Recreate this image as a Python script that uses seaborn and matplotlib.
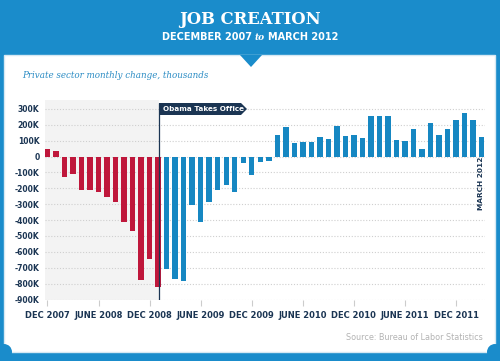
import matplotlib
matplotlib.use("Agg")
import matplotlib.pyplot as plt
import seaborn as sns
import pandas as pd
from matplotlib.patches import Rectangle, Polygon, Ellipse

# --------------------
# Data (thousands of private sector jobs, monthly change)
# --------------------
months = list(pd.date_range("2007-12-01", "2012-03-01", freq="MS").strftime("%Y-%m"))
before_vals = [46, 38, -130, -109, -210, -210, -226, -252, -287, -415, -467, -780, -644, -822]
after_vals = [-709, -769, -786, -304, -415, -287, -210, -178, -224, -38, -115,
              -36, -25, 138, 189, 84, 90, 90, 126, 111, 193, 132, 138,
              117, 256, 256, 258, 105, 100, 172, 50, 210, 138, 174, 230,
              273, 228, 120]
x_tick_labels = ["DEC 2007", "JUNE 2008", "DEC 2008", "JUNE 2009", "DEC 2009",
                 "JUNE 2010", "DEC 2010", "JUNE 2011", "DEC 2011"]
y_ticks = [300, 200, 100, 0, -100, -200, -300, -400, -500, -600, -700, -800, -900]
y_tick_labels = ["300K", "200K", "100K", "0", "-100K", "-200K", "-300K", "-400K",
                 "-500K", "-600K", "-700K", "-800K", "-900K"]

RED = "#bf173b"
BLUE = "#1687c2"
HEADER = "#1a8ccb"
NAVY = "#1b3553"

W, H = 500, 361


def fx(x):
    return x / W


def fy(y):
    return 1 - y / H


df = pd.DataFrame({
    "month": months,
    "change": before_vals + after_vals,
    "era": ["before"] * len(before_vals) + ["after"] * len(after_vals),
})

sns.set_theme(style="white")
plt.rcParams["font.family"] = ["DejaVu Sans"]

fig = plt.figure(figsize=(5, 3.61), dpi=100)
fig.patch.set_facecolor(HEADER)

# white panel + notch + corner scallops
fig.add_artist(Rectangle((fx(4), fy(352)), fx(495) - fx(4), fy(55) - fy(352),
                         transform=fig.transFigure, fc="white", ec="#d6e8f3",
                         lw=1, zorder=-2))
fig.add_artist(Polygon([(fx(240), fy(55)), (fx(262), fy(55)), (fx(251), fy(67))],
                       closed=True, transform=fig.transFigure, fc=HEADER,
                       ec="none", zorder=-1))
for cx in (4, 495):
    fig.add_artist(Ellipse((fx(cx), fy(352)), 16 / W, 16 / H,
                           transform=fig.transFigure, fc=HEADER, ec="none",
                           zorder=-1))

ax = fig.add_axes([fx(45), fy(300), fx(485) - fx(45), fy(100) - fy(300)])
ax.set_facecolor("none")

sns.barplot(data=df, x="month", y="change", hue="era",
            palette={"before": RED, "after": BLUE}, dodge=False, width=0.64,
            saturation=1, errorbar=None, legend=False, ax=ax, zorder=2,
            linewidth=0, edgecolor="none")

x_left, x_right = -0.29, 51.4
ax.set_xlim(x_left, x_right)
ax.set_ylim(-903, 356)

obama_x = len(before_vals) - 1 + 0.15
ax.axvspan(x_left, obama_x, color="#f3f3f3", zorder=0, lw=0)
ax.vlines(obama_x, -903, 340, color=NAVY, lw=0.9, zorder=3)

ax.set_yticks(y_ticks)
ax.set_yticklabels(y_tick_labels)
ax.set_xticks(list(range(0, len(months), 6)))
ax.set_xticklabels(x_tick_labels)
ax.yaxis.grid(True, linestyle=(0, (1, 1.6)), color="#cfcfcf", lw=0.8)
ax.xaxis.grid(False)
ax.set_axisbelow(True)
ax.tick_params(axis="y", length=0, pad=4, labelsize=5.5, labelcolor=NAVY)
ax.tick_params(axis="x", bottom=True, length=4.5, width=0.8, color="#cccccc",
               pad=3.5, labelsize=6, labelcolor=NAVY)
for lab in ax.get_xticklabels() + ax.get_yticklabels():
    lab.set_fontweight("bold")
ax.set_xlabel("")
ax.set_ylabel("")
sns.despine(ax=ax, left=True, bottom=True)

# "Obama Takes Office" tag
fig.add_artist(Polygon([(fx(159), fy(103)), (fx(241), fy(103)), (fx(247), fy(109)),
                        (fx(241), fy(115)), (fx(159), fy(115))], closed=True,
                       transform=fig.transFigure, fc=NAVY, ec="none", zorder=5))
fig.text(fx(163), fy(109.3), "Obama Takes Office", color="white", fontsize=5.2,
         fontweight="bold", ha="left", va="center", zorder=6)

# texts
fig.text(fx(250), fy(20), "JOB CREATION", family="DejaVu Serif", fontweight="bold",
         fontsize=11.8, color="white", ha="center", va="center")
fig.text(fx(252), fy(37.5), "DECEMBER 2007", fontweight="bold", fontsize=7,
         color="white", ha="right", va="center")
fig.text(fx(260), fy(37.5), "to", family="DejaVu Serif", style="italic",
         fontweight="bold", fontsize=6.5, color="white", ha="center", va="center")
fig.text(fx(268), fy(37.5), "MARCH 2012", fontweight="bold", fontsize=7,
         color="white", ha="left", va="center")
fig.text(fx(22), fy(76), "Private sector monthly change, thousands",
         family="DejaVu Serif", style="italic", fontsize=6.3, color="#2b8cc4",
         ha="left", va="center")
fig.text(fx(481), fy(183), "MARCH 2012", rotation=90, fontweight="bold",
         fontsize=5.3, color=NAVY, ha="center", va="center")
fig.text(fx(483), fy(338), "Source: Bureau of Labor Statistics", fontsize=5.8,
         color="#b3b3b3", ha="right", va="center")

fig.savefig("out.png", dpi=100, facecolor=fig.get_facecolor())
